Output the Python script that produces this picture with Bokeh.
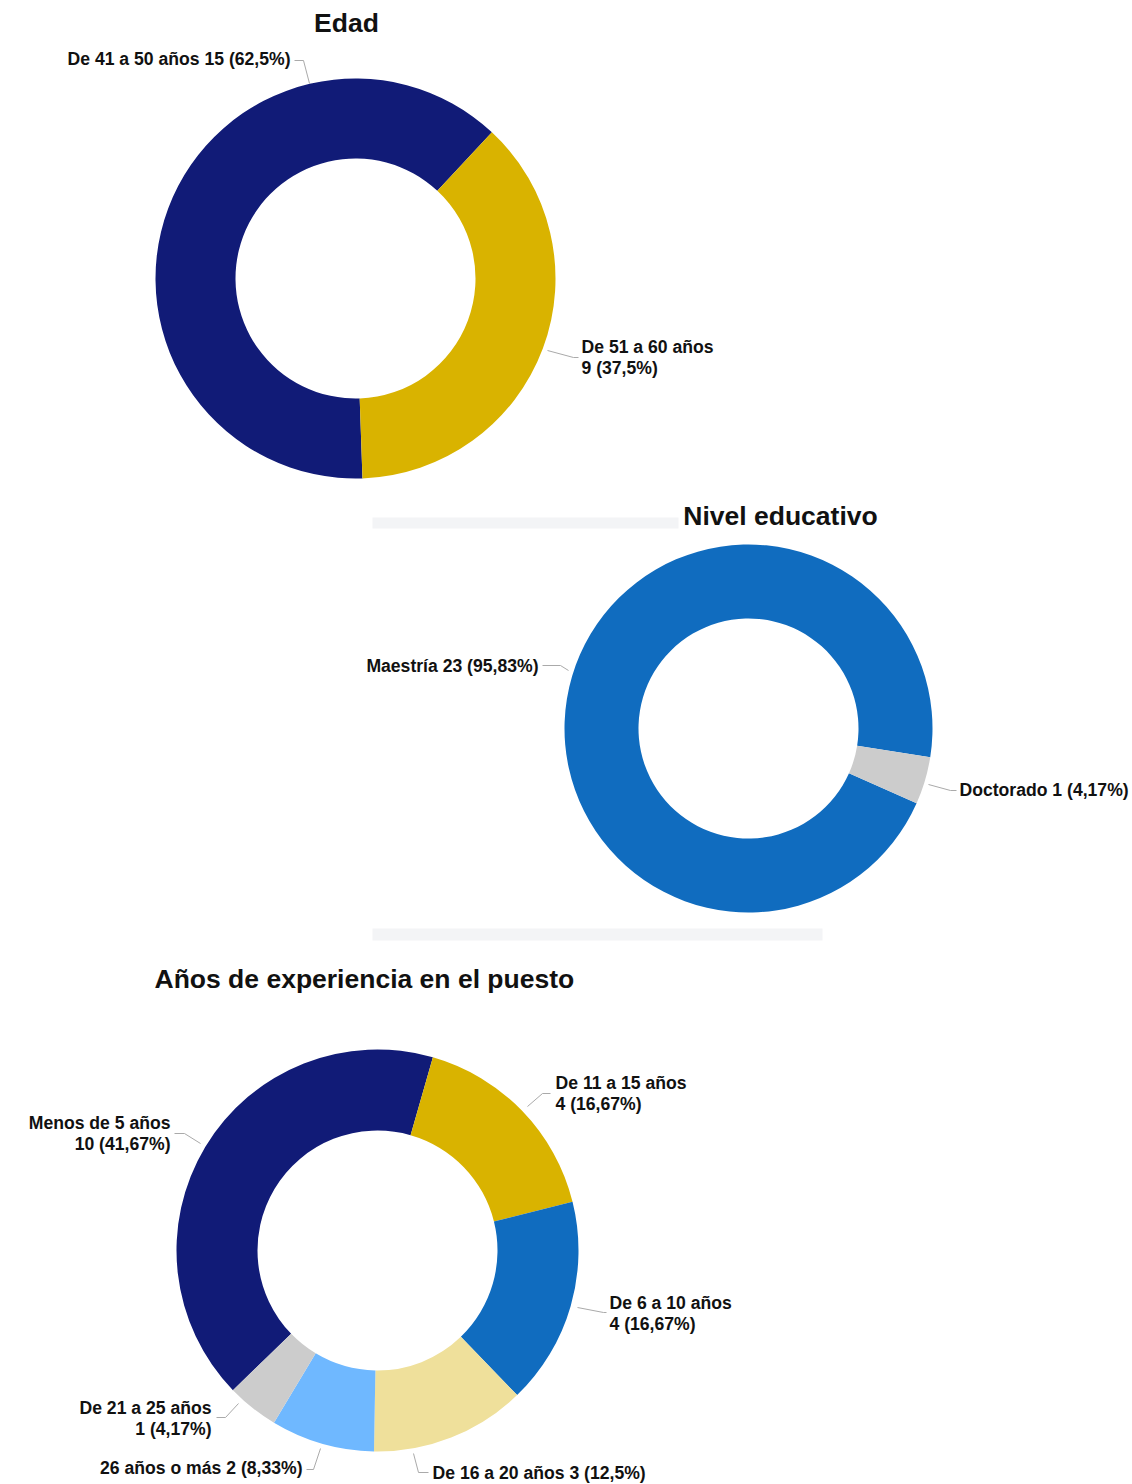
from bokeh.plotting import figure
from bokeh.models import Range1d
from bokeh.core.properties import value
from bokeh.embed import file_html
from bokeh.resources import INLINE
import math

# ---------------- data ----------------
edad_cats = ["De 41 a 50 años", "De 51 a 60 años"]
edad_vals = [15, 9]
edad_colors = ["#111b77", "#d9b300"]

nivel_cats = ["Maestría", "Doctorado"]
nivel_vals = [23, 1]
nivel_colors = ["#106cbf", "#cccccc"]

exp_cats = ["Menos de 5 años", "De 11 a 15 años", "De 6 a 10 años",
            "De 16 a 20 años", "26 años o más", "De 21 a 25 años"]
exp_vals = [10, 4, 4, 3, 2, 1]
exp_colors = ["#111b77", "#d9b300", "#106cbf", "#efe09b", "#6fb8ff", "#cccccc"]

titles = ["Edad", "Nivel educativo", "Años de experiencia en el puesto"]

# ---------------- layout ----------------
W, H = 1132, 1484
FONT = value("Liberation Sans")
LABEL_SIZE = "17.6px"
TITLE_SIZE = "26.5px"


def Y(py):
    return H - py


p = figure(width=W, height=H, output_backend="svg", toolbar_location=None,
           x_range=Range1d(0, W), y_range=Range1d(0, H),
           x_axis_location=None, y_axis_location=None, min_border=0)
p.grid.visible = False
p.outline_line_color = None
p.background_fill_color = "white"
p.border_fill_color = "white"


def fmt_pct(v, total):
    s = f"{v / total * 100:.2f}".rstrip("0").rstrip(".")
    return s.replace(".", ",")


def donut(cx, cy, r_in, r_out, vals, colors, start_cw):
    total = sum(vals)
    s_list, e_list = [], []
    a = start_cw
    for v in vals:
        b = a + v / total * 360.0
        # convert clockwise-from-top to bokeh (ccw from +x)
        s_list.append(math.radians(90 - b))
        e_list.append(math.radians(90 - a))
        a = b
    p.annular_wedge(x=[cx] * len(vals), y=[Y(cy)] * len(vals),
                    inner_radius=r_in, outer_radius=r_out,
                    start_angle=s_list, end_angle=e_list, direction="anticlock",
                    fill_color=colors, line_color=None)


def labels(cats, vals, specs):
    total = sum(vals)
    xs_all, ys_all = [], []
    for cat, v, sp in zip(cats, vals, specs):
        pct = fmt_pct(v, total)
        if sp["two"]:
            lines = [cat, f"{v} ({pct}%)"]
        else:
            lines = [f"{cat} {v} ({pct}%)"]
        for i, ln in enumerate(lines):
            p.text(x=[sp["x"]], y=[Y(sp["y"] + 21 * i)], text=[ln],
                   text_font=FONT, text_font_style="bold", text_font_size=LABEL_SIZE,
                   text_align=sp["align"], text_baseline="middle", text_color="#111111")
        xs_all.append([pt[0] for pt in sp["lead"]])
        ys_all.append([Y(pt[1]) for pt in sp["lead"]])
    p.multi_line(xs=xs_all, ys=ys_all, line_color="#aaaaaa", line_width=1)


# separators
p.quad(left=[372, 372], right=[678, 822], top=[Y(517), Y(928)], bottom=[Y(528), Y(940)],
       fill_color="#f3f4f6", line_color=None)

# Edad
donut(355, 278, 120, 200, edad_vals, edad_colors, 178)
labels(edad_cats, edad_vals, [
    dict(two=False, x=290, y=58, align="right", lead=[(294, 60), (303, 60), (309, 83)]),
    dict(two=True, x=581, y=346, align="left", lead=[(547, 350), (573, 357), (578, 357)]),
])

# Nivel educativo
donut(748, 728, 110, 184, nivel_vals, nivel_colors, 114)
labels(nivel_cats, nivel_vals, [
    dict(two=False, x=538, y=665, align="right", lead=[(542, 665), (560, 665), (568, 670)]),
    dict(two=False, x=959, y=789, align="left", lead=[(928, 784), (950, 790), (956, 790)]),
])

# Años de experiencia
donut(377, 1250, 120, 201, exp_vals, exp_colors, 226)
labels(exp_cats, exp_vals, [
    dict(two=True, x=170, y=1122, align="right", lead=[(174, 1133), (184, 1133), (200, 1143)]),
    dict(two=True, x=555, y=1082, align="left", lead=[(527, 1106), (542, 1093), (550, 1093)]),
    dict(two=True, x=609, y=1302, align="left", lead=[(577, 1307), (603, 1312), (606, 1312)]),
    dict(two=False, x=432, y=1472, align="left", lead=[(413, 1453), (418, 1472), (428, 1472)]),
    dict(two=False, x=302, y=1467, align="right", lead=[(306, 1469), (313, 1469), (320, 1448)]),
    dict(two=True, x=211, y=1407, align="right", lead=[(216, 1417), (225, 1417), (238, 1403)]),
])

# titles
p.text(x=[346], y=[Y(22)], text=[titles[0]], text_font=FONT, text_font_style="bold",
       text_font_size=TITLE_SIZE, text_align="center", text_baseline="middle", text_color="#111111")
p.text(x=[780], y=[Y(515)], text=[titles[1]], text_font=FONT, text_font_style="bold",
       text_font_size=TITLE_SIZE, text_align="center", text_baseline="middle", text_color="#111111")
p.text(x=[154], y=[Y(978)], text=[titles[2]], text_font=FONT, text_font_style="bold",
       text_font_size=TITLE_SIZE, text_align="left", text_baseline="middle", text_color="#111111")

open("out.html", "w").write(file_html(p, INLINE))
